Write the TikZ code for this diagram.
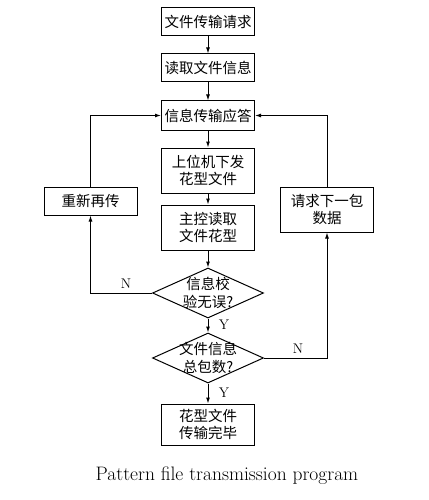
\documentclass[tikz,border=0pt]{standalone}
\usepackage{fontspec}
\newfontfamily\cjk{Noto Sans CJK SC}
\usetikzlibrary{arrows.meta,shapes.geometric}
\begin{document}
\begin{tikzpicture}[x=1pt,y=-1pt,
  every node/.style={font=\cjk\fontsize{14.5}{17.5}\selectfont},
  box/.style={draw,line width=1pt,minimum width=93pt,inner sep=0pt,align=center},
  dia/.style={draw,line width=1pt,diamond,minimum width=111pt,minimum height=50pt,inner sep=0pt},
  dtext/.style={inner sep=0pt,align=center},
  arr/.style={line width=1pt,-{Latex[length=6pt,width=4pt]}},
  lab/.style={font=\fontsize{14}{16}\selectfont}]
\useasboundingbox (0,0) rectangle (428,500);
\node[box,minimum height=28pt] (b1) at (208,22) {文件传输请求};
\node[box,minimum height=28pt] (b2) at (208,68) {读取文件信息};
\node[box,minimum height=29pt] (b3) at (208,115.5) {信息传输应答};
\node[box,minimum height=45pt] (b4) at (208,170.5) {上位机下发\\花型文件};
\node[box,minimum height=45pt] (b5) at (208,227.5) {主控读取\\文件花型};
\node[dia] (d1) at (208,293) {};
\node[dtext] (d1t) at (d1) {信息校\\验无误?};
\node[dia] (d2) at (208,358) {};
\node[dtext] (d2t) at (d2) {文件信息\\总包数?};
\node[box,minimum height=41pt] (b6) at (208,424.5) {花型文件\\传输完毕};
\node[box,minimum height=28pt] (l1) at (90.5,201) {重新再传};
\node[box,minimum height=45pt] (r1) at (327,209.5) {请求下一包\\数据};
\draw[arr] (b1) -- (b2);
\draw[arr] (b2) -- (b3);
\draw[arr] (b3) -- (b4);
\draw[arr] (b4) -- (b5);
\draw[arr] (b5) -- (d1);
\draw[arr] (d1) -- (d2);
\draw[arr] (d2) -- (b6);
\draw[arr] (d1.west) -| (l1.south);
\draw[arr] (l1.north) |- (b3.west);
\draw[arr] (d2.east) -| (r1.south);
\draw[arr] (r1.north) |- (b3.east);
\node[lab] (n1) at (126,284) {N};
\node[lab] (y1) at (224,325) {Y};
\node[lab] (n2) at (298,349) {N};
\node[lab] (y2) at (224,393) {Y};
\node[font=\fontsize{19.5}{22}\selectfont] (cap) at (227,476) {Pattern file transmission program};
\end{tikzpicture}
\end{document}
